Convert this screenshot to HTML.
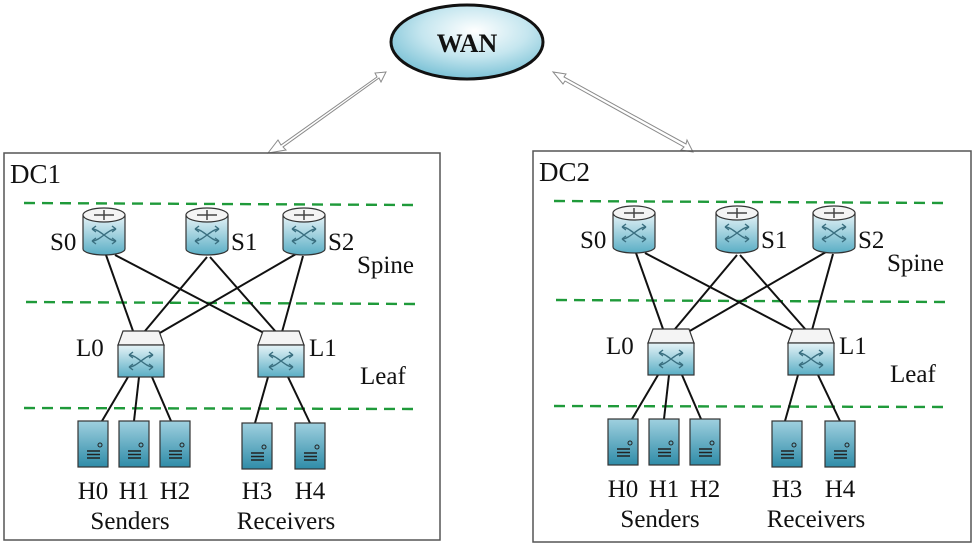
<!DOCTYPE html>
<html><head><meta charset="utf-8"><style>
html,body{margin:0;padding:0;background:#fff;}
svg{display:block;}
text{font-family:"Liberation Serif",serif;fill:#111;}
</style></head><body>
<svg width="975" height="547" viewBox="0 0 975 547" xmlns="http://www.w3.org/2000/svg">
<defs>
<radialGradient id="wanr" cx="0.55" cy="0.35" r="0.7"><stop offset="0" stop-color="#ffffff"/><stop offset="0.5" stop-color="#c5e6ef"/><stop offset="1" stop-color="#6fbcd2"/></radialGradient>
<linearGradient id="dev" x1="0" y1="0" x2="0" y2="1">
<stop offset="0" stop-color="#e6f3f7"/><stop offset="1" stop-color="#5aaec5"/></linearGradient>
<linearGradient id="host" x1="0" y1="0" x2="0" y2="1">
<stop offset="0" stop-color="#9fd0df"/><stop offset="1" stop-color="#2f8ca8"/></linearGradient>
<g id="xarrows" fill="none" stroke="#3a6f80" stroke-width="1.4">
<path d="M-12,-6 C-4,-6 4,6 12,6 M-12,6 C-4,6 4,-6 12,-6"/>
<path d="M-12,-6 l4,-3 M-12,-6 l4,3 M-12,6 l4,-3 M-12,6 l4,3 M12,6 l-4,-3 M12,6 l-4,3 M12,-6 l-4,-3 M12,-6 l-4,3"/>
</g>
<g id="spine">
<path d="M-21,-17 L-21,17 A21,6 0 0 0 21,17 L21,-17 Z" fill="url(#dev)" stroke="#333" stroke-width="1.2"/>
<ellipse cx="0" cy="-17" rx="21" ry="7" fill="#f4f4f4" stroke="#333" stroke-width="1.2"/>
<path d="M-10,-17 h20 M0,-22 v10" stroke="#444" stroke-width="1.5"/>
<use href="#xarrows" y="3"/>
</g>
<g id="leaf">
<path d="M-18,-23 L18,-23 L23,-9 L-23,-9 Z" fill="#f4f4f4" stroke="#333" stroke-width="1.2"/>
<rect x="-23" y="-9" width="46" height="32" fill="url(#dev)" stroke="#333" stroke-width="1.2"/>
<use href="#xarrows" y="7"/>
</g>
<g id="host1">
<rect x="-15" y="-23" width="30" height="46" fill="url(#host)" stroke="#333" stroke-width="1.2"/>
<circle cx="7" cy="1" r="2" fill="none" stroke="#222" stroke-width="1"/>
<path d="M-6,7 h13 M-6,10.5 h13 M-6,14 h13" stroke="#222" stroke-width="1.4"/>
</g>
<g id="dc">
<g stroke="#1f9a3a" stroke-width="2.4" stroke-dasharray="11,7" fill="none">
<line x1="24" y1="203" x2="415" y2="205"/>
<line x1="26" y1="302" x2="415" y2="304"/>
<line x1="24" y1="408" x2="415" y2="409"/>
</g>
<g stroke="#111" stroke-width="2">
<line x1="106" y1="255" x2="133" y2="331"/>
<line x1="115" y1="255" x2="264" y2="333"/>
<line x1="207" y1="257" x2="145" y2="331"/>
<line x1="210" y1="257" x2="276" y2="332"/>
<line x1="296" y1="254" x2="158" y2="334"/>
<line x1="303" y1="256" x2="282" y2="332"/>
<line x1="128" y1="377" x2="102" y2="421"/>
<line x1="139" y1="377" x2="134" y2="421"/>
<line x1="152" y1="377" x2="171" y2="421"/>
<line x1="268" y1="377" x2="255" y2="423"/>
<line x1="288" y1="377" x2="310" y2="423"/>
</g>
<use href="#spine" x="104" y="232"/>
<use href="#spine" x="207" y="232"/>
<use href="#spine" x="304" y="232"/>
<use href="#leaf" x="141" y="354"/>
<use href="#leaf" x="281" y="354"/>
<use href="#host1" x="93" y="444"/>
<use href="#host1" x="134" y="444"/>
<use href="#host1" x="175" y="444"/>
<use href="#host1" x="257" y="446"/>
<use href="#host1" x="310" y="446"/>
<g font-size="25">
<text x="50" y="250">S0</text>
<text x="231" y="250">S1</text>
<text x="328" y="250">S2</text>
<text x="357" y="273">Spine</text>
<text x="76" y="356">L0</text>
<text x="309" y="356">L1</text>
<text x="360" y="384">Leaf</text>
<text x="93" y="499" text-anchor="middle">H0</text>
<text x="134" y="499" text-anchor="middle">H1</text>
<text x="175" y="499" text-anchor="middle">H2</text>
<text x="257" y="499" text-anchor="middle">H3</text>
<text x="310" y="499" text-anchor="middle">H4</text>
<text x="130" y="529" text-anchor="middle">Senders</text>
<text x="286" y="529" text-anchor="middle">Receivers</text>
</g>
</g>
</defs>

<g fill="#fff" stroke="#8a8a8a" stroke-width="1">
<path d="M268,153 L278,140 L281,145 L377,77 L375,73 L386,72 L381,82 L379,78 L283,147 L286,150 Z"/>
<path d="M693,152 L681,150 L684,147 L565,81 L563,84 L553,72 L566,74 L564,77 L686,144 L687,140 Z"/>
</g>

<ellipse cx="467" cy="42" rx="76" ry="37" fill="url(#wanr)" stroke="#111" stroke-width="3"/>
<text x="467" y="52" font-size="26" font-weight="bold" text-anchor="middle">WAN</text>

<rect x="4" y="153" width="436" height="387" fill="none" stroke="#555" stroke-width="1.5"/>
<rect x="533" y="151" width="438" height="391" fill="none" stroke="#555" stroke-width="1.5"/>
<text x="10" y="183" font-size="27">DC1</text>
<text x="539" y="181" font-size="27">DC2</text>

<use href="#dc"/>
<use href="#dc" x="530" y="-2"/>
</svg>
</body></html>
